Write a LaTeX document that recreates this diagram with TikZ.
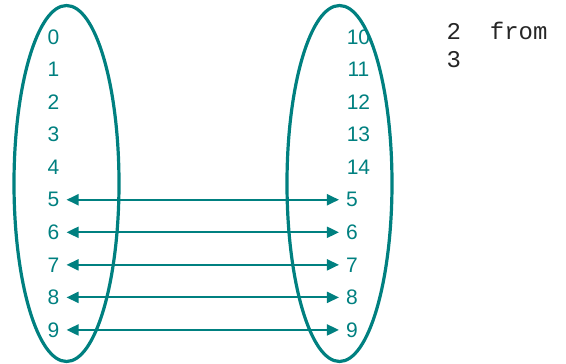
\documentclass[tikz,border=0pt]{standalone}
\usepackage{fontspec}
\setmainfont{Liberation Sans}
\setmonofont{Liberation Mono}
\usepackage{tikz}
\usetikzlibrary{arrows.meta}
\definecolor{tealset}{RGB}{0,128,128}
\tikzset{
  setring/.style={draw=tealset,line width=3.2pt},
  num/.style={text=tealset,font=\fontsize{21}{24}\selectfont,inner sep=7pt},
  maparr/.style={{Triangle[length=12pt,width=11pt]}-{Triangle[length=12pt,width=11pt]},draw=tealset,line width=2pt},
  code/.style={font=\ttfamily\fontsize{24}{28}\selectfont,text=black!85,align=left,anchor=north west,inner sep=0pt}
}
\begin{document}
\begin{tikzpicture}[x=1pt,y=-1pt]
\useasboundingbox (0,0) rectangle (566,364);
\draw[setring] (66.5,183.5) ellipse (52.5pt and 178pt);
\draw[setring] (339.5,183.5) ellipse (52.5pt and 178pt);
\foreach \i in {0,...,9} {
  \node[num] (l\i) at (53.5,37+32.55*\i) {\i};
}
\foreach \i in {10,...,14} {
  \node[num] (r\i) at (358.5,37+32.55*\i-325.5) {\i};
}
\foreach \i in {5,...,9} {
  \node[num] (r\i) at (352,37+32.55*\i) {\i};
  \draw[maparr] (l\i.east) -- (r\i.west);
}
\node[code] (note) at (446.5,22) {2\ \ from\\3};
\end{tikzpicture}
\end{document}
